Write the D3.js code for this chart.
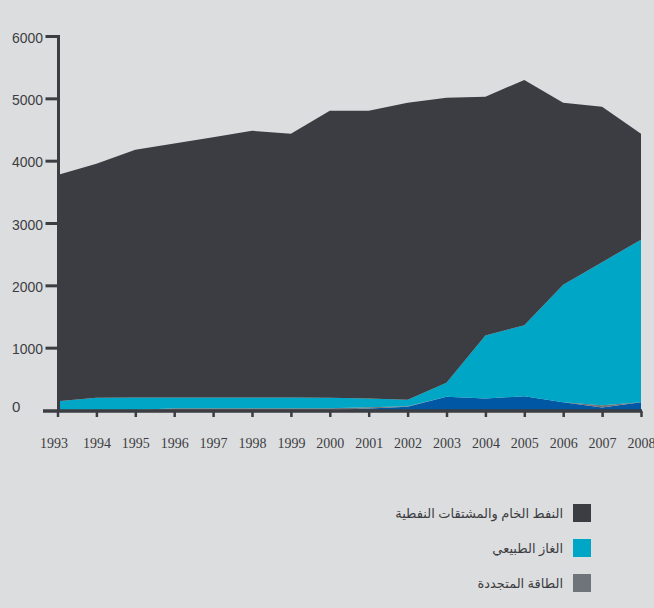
<!DOCTYPE html>
<html><head><meta charset="utf-8">
<script src="https://cdn.jsdelivr.net/npm/d3@7"></script>
<style>html,body{margin:0;padding:0;background:#dcdddf;}svg{display:block;}</style>
</head><body>
<svg id="c" width="654" height="608"></svg>
<script>
const years = [1993,1994,1995,1996,1997,1998,1999,2000,2001,2002,2003,2004,2005,2006,2007,2008];
const blueOther = [0,0,0,0,0,0,0,0,25,51,211,184,221,125,40,125];
const renewable = [0,0,0,30,30,30,30,30,20,10,0,0,0,0,35,0];
const gas = [141,195,200,170,170,170,170,165,140,104,225,1010,1138,1886,2297,2608];
const oil = [3629,3755,3975,4076,4177,4279,4231,4605,4615,4763,4572,3830,3937,2917,2492,1698];
const yTicks = [0,1000,2000,3000,4000,5000,6000];
const legendLabels = ["النفط الخام والمشتقات النفطية","الغاز الطبيعي","الطاقة المتجددة"];
const colors = {blueOther:"#0057a3", renewable:"#6f747a", gas:"#00a6c6", oil:"#3c3d42"};

const svg = d3.select("#c");
svg.append("rect").attr("width",654).attr("height",608).attr("fill","#dcdddf");

const x = d3.scaleLinear().domain([1993,2008]).range([57.5,641]);
const y = d3.scaleLinear().domain([0,6000]).range([410,36]);

const rows = years.map((yr,i)=>({year:yr, blueOther:blueOther[i], renewable:renewable[i], gas:gas[i], oil:oil[i]}));
const keys = ["blueOther","renewable","gas","oil"];
const stack = d3.stack().keys(keys)(rows);
const area = d3.area().x(d=>x(d.data.year)).y0(d=>y(d[0])).y1(d=>y(d[1]));
svg.append("g").selectAll("path").data(stack).join("path")
  .attr("d",area).attr("fill",d=>colors[d.key]);

// x axis
const axisColor = "#3c3d42";
const xAxis = d3.axisBottom(x).tickValues(years).tickFormat(d3.format("d")).tickSize(6).tickPadding(21);
const gx = svg.append("g").attr("transform","translate(0,411)").call(xAxis);
gx.select(".domain").remove();
gx.append("line").attr("x1",43).attr("x2",642).attr("y1",0).attr("y2",0).attr("stroke",axisColor).attr("stroke-width",3.5);
gx.selectAll(".tick line").attr("stroke",axisColor).attr("stroke-width",2.5);
gx.selectAll(".tick text").attr("fill","#3c3d42").style("font-family","'Liberation Serif', serif").style("font-size","14px");
gx.selectAll(".tick").filter(d=>d===1993).select("text").attr("dx",-4);

// y axis
const yAxis = d3.axisLeft(y).tickValues(yTicks).tickFormat(d3.format("d")).tickSize(13).tickPadding(0);
const gy = svg.append("g").attr("transform","translate(58.5,0)").call(yAxis);
gy.select(".domain").remove();
gy.append("line").attr("x1",0).attr("x2",0).attr("y1",35).attr("y2",411).attr("stroke",axisColor).attr("stroke-width",3);
gy.selectAll(".tick line").attr("stroke",axisColor).attr("stroke-width",3);
gy.selectAll(".tick").filter(d=>d===0).select("line").remove();
gy.selectAll(".tick text").attr("fill","#3c3d42").attr("text-anchor","start").attr("x",-46.5).attr("dy","0.42em")
  .style("font-family","'Liberation Sans', sans-serif").style("font-size","15px").attr("textLength",31).attr("lengthAdjust","spacingAndGlyphs");
gy.selectAll(".tick").filter(d=>d===0).select("text").attr("dy","0.1em").attr("textLength",null);

// legend
const leg = svg.append("g");
const legColors = [colors.oil, colors.gas, colors.renewable];
const legY = [504,539,574];
legendLabels.forEach((t,i)=>{
  leg.append("rect").attr("x",573).attr("y",legY[i]).attr("width",18).attr("height",18).attr("fill",legColors[i]);
  leg.append("text").attr("x",563).attr("y",legY[i]+9).attr("dy","0.35em").attr("text-anchor","start")
    .attr("direction","rtl").style("direction","rtl").attr("fill","#3c3d42")
    .style("font-family","'Noto Sans', 'DejaVu Sans', sans-serif").style("font-size","13px").text(t);
});
</script>
</body></html>
